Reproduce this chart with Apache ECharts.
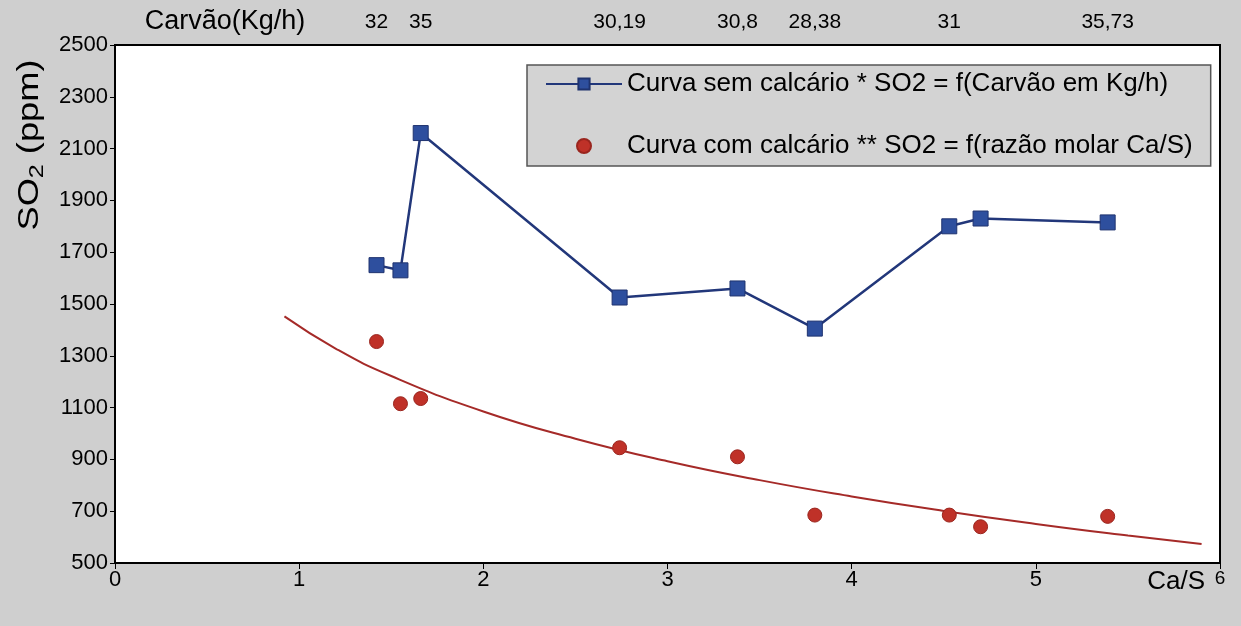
<!DOCTYPE html>
<html>
<head>
<meta charset="utf-8">
<script src="https://cdn.jsdelivr.net/npm/echarts@6/dist/echarts.min.js"></script>
<style>
  html, body { margin: 0; padding: 0; background: #cfcfcf; }
  #chart { width: 1241px; height: 626px; }
</style>
</head>
<body>
<div id="chart"></div>
<script>
// Razão molar Ca/S of each test
const caS = [1.42, 1.55, 1.66, 2.74, 3.38, 3.80, 4.53, 4.70, 5.39];
// SO2 (ppm) without limestone, as a function of coal feed
const so2SemCalcario = [1650, 1630, 2160, 1525, 1560, 1405, 1800, 1830, 1815];
// SO2 (ppm) with limestone, as a function of Ca/S
const so2ComCalcario = [1355, 1115, 1135, 945, 910, 685, 685, 640, 680];
// Coal feed (kg/h) written above each test
const carvaoKgH = ['32', '', '35', '30,19', '30,8', '28,38', '31', '', '35,73'];
// Trend curve of the limestone tests
const trendCaS = [0.92, 1.2, 1.5, 2, 2.5, 3, 3.5, 4, 4.5, 5, 5.5, 5.9];
const trendSO2 = [1452, 1327, 1222, 1085, 980, 893, 820, 757, 701, 651, 606, 573];
// Axis ranges
const xMin = 0, xMax = 6, xStep = 1;
const yMin = 500, yMax = 2500, yStep = 200;

const nameSem = 'Curva sem calcário * SO2 = f(Carvão em Kg/h)';
const nameCom = 'Curva com calcário ** SO2 = f(razão molar Ca/S)';
const FONT = 'Liberation Sans, Arial, sans-serif';

const titleGraphics = [
  {
    id: 'carvaoTitle', type: 'text', x: 225, y: 22,
    style: { text: 'Carvão(Kg/h)', font: '27px ' + FONT, fill: '#000', align: 'center', verticalAlign: 'middle' }
  },
  {
    id: 'so2Title', type: 'text', x: 30, y: 145, rotation: Math.PI / 2, scaleX: 1.25,
    style: {
      text: '{a|SO}{b|2}{a| (ppm)}',
      align: 'center', verticalAlign: 'middle', fill: '#000',
      rich: {
        a: { fontSize: 29, lineHeight: 34, fontFamily: FONT, fill: '#000' },
        b: { fontSize: 20, lineHeight: 34, fontFamily: FONT, fill: '#000', verticalAlign: 'bottom' }
      }
    }
  }
];

const chart = echarts.init(document.getElementById('chart'));
chart.setOption({
  backgroundColor: '#cfcfcf',
  animation: false,
  textStyle: { fontFamily: FONT, color: '#000' },
  grid: {
    left: 115, right: 21, top: 45, bottom: 63,
    show: true, backgroundColor: '#ffffff', borderColor: '#000', borderWidth: 2
  },
  legend: {
    orient: 'vertical',
    left: 527, top: 65,
    padding: [6, 18, 7, 18],
    itemGap: 36,
    itemWidth: 76,
    itemHeight: 14,
    backgroundColor: '#d3d3d3',
    borderColor: '#555',
    borderWidth: 1.5,
    textStyle: { fontSize: 26, color: '#000', fontFamily: FONT },
    data: [{ name: nameSem }, { name: nameCom }]
  },
  xAxis: {
    type: 'value', min: xMin, max: xMax, interval: xStep,
    splitLine: { show: false },
    axisLine: { lineStyle: { color: '#000', width: 2 } },
    axisTick: { length: 6, lineStyle: { color: '#000', width: 1 } },
    axisLabel: {
      margin: 6, fontSize: 22, color: '#000', fontFamily: FONT,
      formatter: v => (v === xMax ? '{s|' + v + '}' : String(v)),
      rich: { s: { fontSize: 19, padding: [0, 0, 10, 0], fontFamily: FONT, color: '#000' } }
    },
    name: 'Ca/S',
    nameLocation: 'end',
    nameGap: -15,
    nameTextStyle: { fontSize: 26, align: 'right', verticalAlign: 'top', padding: [6, 0, 0, 0], color: '#000', fontFamily: FONT }
  },
  yAxis: {
    type: 'value', min: yMin, max: yMax, interval: yStep,
    splitLine: { show: false },
    axisLine: { show: true, lineStyle: { color: '#000', width: 2 } },
    axisTick: { show: true, length: 5, lineStyle: { color: '#000', width: 1 } },
    axisLabel: { margin: 7, fontSize: 22, color: '#000', fontFamily: FONT, formatter: v => String(v) }
  },
  graphic: titleGraphics,
  series: [
    {
      name: 'trend',
      type: 'line',
      data: trendCaS.map((x, i) => [x, trendSO2[i]]),
      smooth: true,
      symbol: 'none',
      silent: true,
      lineStyle: { color: '#a52a28', width: 2 },
      z: 2
    },
    {
      name: nameSem,
      type: 'line',
      data: caS.map((x, i) => [x, so2SemCalcario[i]]),
      symbol: 'rect',
      symbolSize: 15,
      itemStyle: { color: '#2e4f9e', borderColor: '#1f336f', borderWidth: 1 },
      lineStyle: { color: '#22377a', width: 2.5 },
      z: 4
    },
    {
      name: nameCom,
      type: 'scatter',
      data: caS.map((x, i) => [x, so2ComCalcario[i]]),
      symbol: 'circle',
      symbolSize: 14,
      itemStyle: { color: '#bf3128', borderColor: '#9a251e', borderWidth: 1, opacity: 1 },
      z: 3
    }
  ]
});

// Coal feed labels along the top edge, placed over each test's Ca/S
const coalLabels = [];
caS.forEach((x, i) => {
  if (!carvaoKgH[i]) return;
  const p = chart.convertToPixel({ gridIndex: 0 }, [x, yMax]);
  coalLabels.push({
    id: 'carvao' + i, type: 'text', x: p[0], y: p[1] - 23,
    style: { text: carvaoKgH[i], font: '21px ' + FONT, fill: '#000', align: 'center', verticalAlign: 'middle' }
  });
});
chart.setOption({ graphic: titleGraphics.concat(coalLabels) });
</script>
</body>
</html>
